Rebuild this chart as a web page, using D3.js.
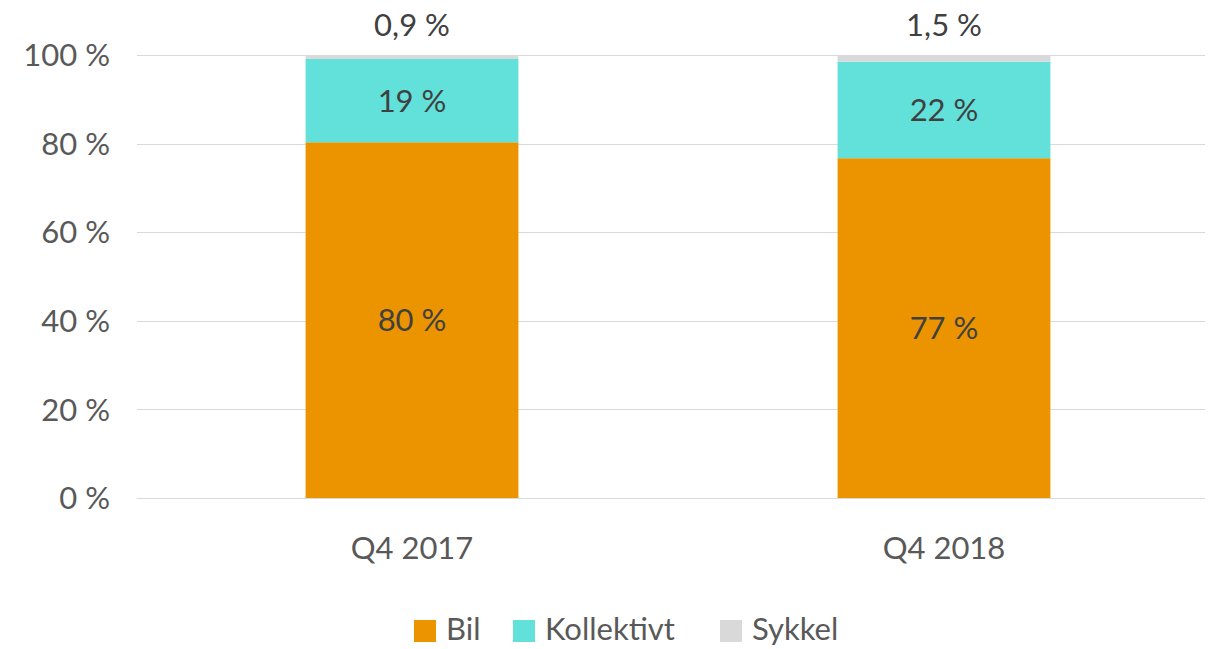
<!DOCTYPE html>
<html>
<head>
<meta charset="utf-8">
<script src="https://cdn.jsdelivr.net/npm/d3@7"></script>
<style>
  body { margin: 0; background: #fff; }
  text { font-family: Lato, "Open Sans", sans-serif; fill: #595959; }
</style>
</head>
<body>
<div id="chart"></div>
<script>
// Data
const categories = ['Q4 2017', 'Q4 2018']
const seriesNames = ['Bil', 'Kollektivt', 'Sykkel']
const bil = [80.3, 76.7]
const kollektivt = [18.8, 21.8]
const sykkel = [0.9, 1.5]
const labelsBil = ['80 %', '77 %']
const labelsKollektivt = ['19 %', '22 %']
const labelsSykkel = ['0,9 %', '1,5 %']
const yTicks = [0, 20, 40, 60, 80, 100]
const colors = ['#ec9400', '#62e0da', '#d9d9d9']

const W = 1214, H = 649
const fontSize = '31px'
const svg = d3.select('#chart').append('svg')
  .attr('width', W).attr('height', H)

const x = d3.scaleBand()
  .domain(categories)
  .range([146, 1210])
  .paddingInner(0.6)
  .paddingOuter(0.3)

const y = d3.scaleLinear()
  .domain([0, 100])
  .range([498, 55])

// gridlines
svg.append('g').selectAll('line')
  .data(yTicks)
  .enter().append('line')
  .attr('x1', 137).attr('x2', 1205)
  .attr('y1', d => Math.round(y(d)) + 0.5)
  .attr('y2', d => Math.round(y(d)) + 0.5)
  .attr('stroke', '#d9d9d9')
  .attr('stroke-width', 1.2)

// y labels
svg.append('g').selectAll('text')
  .data(yTicks)
  .enter().append('text')
  .attr('x', 110)
  .attr('y', d => y(d))
  .attr('dy', '0.36em')
  .attr('text-anchor', 'end')
  .style('font-size', fontSize)
  .text(d => d + ' %')

// stacked bars
const rows = categories.map((c, i) => ({ cat: c, Bil: bil[i], Kollektivt: kollektivt[i], Sykkel: sykkel[i] }))
const stacked = d3.stack().keys(seriesNames)(rows)

svg.append('g').selectAll('g')
  .data(stacked)
  .enter().append('g')
  .attr('fill', (d, i) => colors[i])
  .selectAll('rect')
  .data(d => d)
  .enter().append('rect')
  .attr('x', d => x(d.data.cat))
  .attr('width', x.bandwidth())
  .attr('y', d => y(d[1]))
  .attr('height', d => y(d[0]) - y(d[1]))

// value labels
const labelSets = [labelsBil, labelsKollektivt]
stacked.slice(0, 2).forEach((layer, k) => {
  svg.append('g').selectAll('text')
    .data(layer)
    .enter().append('text')
    .attr('x', d => x(d.data.cat) + x.bandwidth() / 2)
    .attr('y', d => (y(d[0]) + y(d[1])) / 2)
    .attr('dy', '0.36em')
    .attr('text-anchor', 'middle')
    .style('font-size', fontSize)
    .style('fill', '#404040')
    .text((d, i) => labelSets[k][i])
})
svg.append('g').selectAll('text')
  .data(stacked[2])
  .enter().append('text')
  .attr('x', d => x(d.data.cat) + x.bandwidth() / 2)
  .attr('y', d => y(d[1]) - 30)
  .attr('dy', '0.36em')
  .attr('text-anchor', 'middle')
  .style('font-size', fontSize)
  .style('fill', '#404040')
  .text((d, i) => labelsSykkel[i])

// category labels
svg.append('g').selectAll('text')
  .data(categories)
  .enter().append('text')
  .attr('x', d => x(d) + x.bandwidth() / 2)
  .attr('y', 548)
  .attr('dy', '0.36em')
  .attr('text-anchor', 'middle')
  .style('font-size', fontSize)
  .text(d => d)

// legend
const legendX = [414, 513, 720]
const legend = svg.append('g').selectAll('g')
  .data(seriesNames)
  .enter().append('g')
  .attr('transform', (d, i) => `translate(${legendX[i]},620)`)
legend.append('rect')
  .attr('width', 22).attr('height', 22)
  .attr('fill', (d, i) => colors[i])
legend.append('text')
  .attr('x', 32).attr('y', 9)
  .attr('dy', '0.36em')
  .style('font-size', fontSize)
  .text(d => d)
</script>
</body>
</html>
